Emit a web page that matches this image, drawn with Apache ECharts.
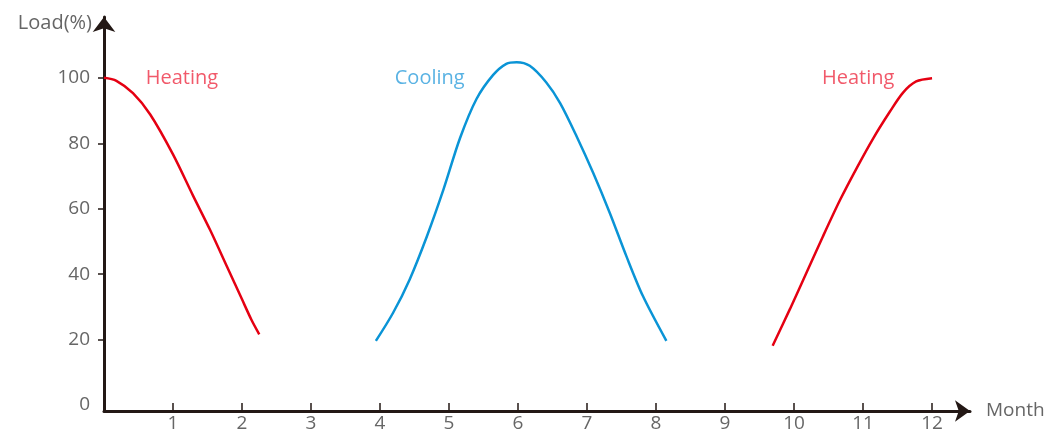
<!DOCTYPE html>
<html>
<head>
<meta charset="utf-8">
<script src="https://cdn.jsdelivr.net/npm/echarts@6/dist/echarts.min.js"></script>
<style>
html,body{margin:0;padding:0;background:#fff;}
#chart{width:1052px;height:433px;}
</style>
</head>
<body>
<div id="chart"></div>
<script>
// month (x) and load % (y)
const heatingStart = [[0,100],[0.18,99.1],[0.42,95.3],[0.67,88.8],[1.0,76.6],[1.29,64.0],[1.54,53.4],[1.78,42.4],[2.0,32.3],[2.14,25.9],[2.25,21.6]];
const cooling = [[3.94,19.6],[4.19,28.2],[4.43,38.4],[4.68,51.6],[4.92,65.9],[5.16,81.6],[5.40,93.6],[5.64,100.9],[5.83,104.3],[5.98,104.8],[6.17,103.7],[6.41,98.6],[6.61,92.3],[6.85,82.1],[7.09,70.9],[7.33,58.7],[7.57,45.5],[7.81,33.3],[8.15,19.6]];
const heatingEnd = [[9.69,18.1],[9.94,29.3],[10.18,40.4],[10.42,51.6],[10.67,62.8],[10.91,72.5],[11.15,81.6],[11.39,89.7],[11.58,95.5],[11.77,98.9],[12.0,99.9]];
const monthTicks = [1,2,3,4,5,6,7,8,9,10,11,12];
const loadLabels = [0,20,40,60,80,100];
const loadTicks = [20,40,60,80,100];
const annotations = [
  {name:'Heating', value:[1.13,100], color:'#ee2f45'},
  {name:'Cooling', value:[4.72,100], color:'#2f9fdc'},
  {name:'Heating', value:[10.93,100], color:'#ee2f45'}
];

const axisColor = '#231815';
const textColor = '#666';
const font = '"Open Sans", "Noto Sans", sans-serif';

const chart = echarts.init(document.getElementById('chart'));
chart.setOption({
  animation:false,
  grid:{left:104, right:82, top:17, bottom:21},
  xAxis:{
    type:'value', min:0, max:12.55,
    name:'Month', nameLocation:'end', nameGap:16,
    nameTextStyle:{color:textColor, fontSize:19, fontFamily:font},
    axisLine:{show:true, onZero:false, lineStyle:{color:axisColor, width:3}, symbol:['none','arrow'], symbolSize:[16,15]},
    axisTick:{show:true, inside:true, length:8, customValues:monthTicks, lineStyle:{color:axisColor, width:1.5}},
    axisLabel:{customValues:monthTicks, color:textColor, fontSize:19, fontFamily:font, margin:3},
    splitLine:{show:false}
  },
  yAxis:{
    type:'value', min:-1.83, max:118.6,
    name:'Load(%)', nameLocation:'end', nameGap:-6,
    nameTextStyle:{color:textColor, fontSize:20, fontFamily:font, align:'right', verticalAlign:'middle', padding:[0,12,0,0]},
    axisLine:{show:true, onZero:false, lineStyle:{color:axisColor, width:3}, symbol:['none','arrow'], symbolSize:[17,15]},
    axisTick:{show:true, inside:false, length:6, customValues:loadTicks, lineStyle:{color:axisColor, width:1.5}},
    axisLabel:{customValues:loadLabels, color:textColor, fontSize:19, fontFamily:font, margin:14},
    splitLine:{show:false}
  },
  series:[
    {type:'line', data:heatingStart, smooth:0.3, showSymbol:false, lineStyle:{color:'#e50012', width:2.5}},
    {type:'line', data:cooling, smooth:0.3, showSymbol:false, lineStyle:{color:'#0a94d6', width:2.5}},
    {type:'line', data:heatingEnd, smooth:0.3, showSymbol:false, lineStyle:{color:'#e50012', width:2.5}},
    {type:'scatter', symbolSize:0, silent:true,
      data:annotations.map(a=>({name:a.name, value:a.value, label:{color:a.color}})),
      label:{show:true, position:'inside', formatter:p=>p.name, fontSize:20, fontFamily:font}}
  ]
});
</script>
</body>
</html>
